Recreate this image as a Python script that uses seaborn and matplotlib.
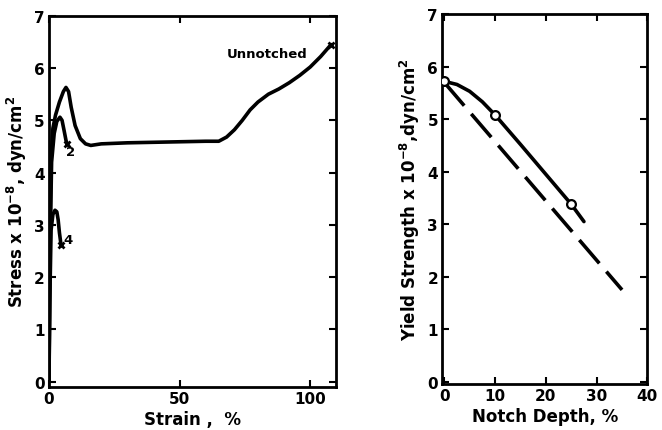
import numpy as np
import pandas as pd
import seaborn as sns
import matplotlib.pyplot as plt

# left panel: stress-strain curves
unnotched_strain = [0, 0.3, 0.8, 1.5, 2.5, 4, 5.5, 6.5, 7.5, 8.5, 10, 12, 14, 16, 20, 30, 40, 50, 60, 65,
                    68, 71, 74, 77, 80, 84, 88, 92, 96, 100, 104, 108]
unnotched_stress = [0, 2.5, 4.3, 4.85, 5.1, 5.35, 5.55, 5.63, 5.55, 5.25, 4.9, 4.65, 4.55, 4.52, 4.55, 4.57,
                    4.58, 4.59, 4.6, 4.6, 4.68, 4.82, 5.0, 5.2, 5.35, 5.5, 5.6, 5.72, 5.86, 6.02, 6.22, 6.45]
notch2_strain = [0, 0.4, 1, 2, 3, 4.2, 5, 5.8, 6.5, 6.9]
notch2_stress = [0, 2.5, 4.2, 4.75, 4.98, 5.06, 5.0, 4.8, 4.62, 4.55]
notch4_strain = [0, 0.3, 0.8, 1.5, 2.3, 3.0, 3.5, 4.0, 4.6]
notch4_stress = [0, 1.5, 2.9, 3.2, 3.28, 3.25, 3.1, 2.85, 2.62]

# right panel: yield strength vs notch depth
depth_meas = [0, 10, 25]
yield_meas = [5.72, 5.08, 3.38]
depth_curve = [0, 2.5, 5, 7.5, 10, 15, 20, 25, 27.5]
yield_curve = [5.72, 5.66, 5.53, 5.33, 5.08, 4.52, 3.95, 3.38, 3.05]
depth_dash = [0, 35]
yield_dash = [5.7, 1.75]

sns.set_style("ticks")
plt.rcParams["font.family"] = ["DejaVu Sans"]
plt.rcParams["font.weight"] = "bold"
plt.rcParams["mathtext.default"] = "regular"
plt.rcParams["text.color"] = "black"
plt.rcParams["axes.labelcolor"] = "black"
plt.rcParams["xtick.color"] = "black"
plt.rcParams["ytick.color"] = "black"
plt.rcParams["axes.edgecolor"] = "black"

fig = plt.figure(figsize=(6.62, 4.31), dpi=100)
ax1 = fig.add_axes([0.074, 0.100, 0.434, 0.861])
ax2 = fig.add_axes([0.668, 0.107, 0.310, 0.858])

lw = 2.6
for xs, ys in [(unnotched_strain, unnotched_stress), (notch2_strain, notch2_stress),
               (notch4_strain, notch4_stress)]:
    df = pd.DataFrame({"strain": xs, "stress": ys})
    sns.lineplot(data=df, x="strain", y="stress", sort=False, estimator=None,
                 color="black", lw=lw, ax=ax1)
    ax1.plot(xs[-1], ys[-1], marker="x", ms=5, mew=2, color="black")

ax1.text(99, 6.27, "Unnotched", ha="right", va="center", fontsize=9.5, fontweight="bold")
ax1.text(8.4, 4.4, "2", ha="center", va="center", fontsize=9.5, fontweight="bold")
ax1.text(7.2, 2.72, "4", ha="center", va="center", fontsize=9.5, fontweight="bold")

ax1.set_xlim(0, 110)
ax1.set_ylim(-0.1, 7)
ax1.set_xticks([0, 50, 100])
ax1.set_yticks(range(0, 8))
ax1.set_xlabel("Strain ,  %", fontsize=12, fontweight="bold", labelpad=3)
ax1.set_ylabel("Stress x 10$^{-8}$, dyn/cm$^2$", fontsize=12, fontweight="bold", labelpad=4)

df_c = pd.DataFrame({"depth": depth_curve, "ys": yield_curve})
sns.lineplot(data=df_c, x="depth", y="ys", sort=False, estimator=None, color="black", lw=lw, ax=ax2)
df_d = pd.DataFrame({"depth": depth_dash, "ys": yield_dash})
sns.lineplot(data=df_d, x="depth", y="ys", sort=False, estimator=None, color="black", lw=lw,
             ax=ax2)
ax2.lines[-1].set_dashes((8.5, 3))
df_m = pd.DataFrame({"depth": depth_meas, "ys": yield_meas})
sns.scatterplot(data=df_m, x="depth", y="ys", marker="o", s=40, facecolor="white",
                edgecolor="black", linewidth=1.6, zorder=5, ax=ax2)

ax2.set_xlim(-0.4, 40)
ax2.set_ylim(-0.04, 7)
ax2.set_xticks(range(0, 41, 10))
ax2.set_yticks(range(0, 8))
ax2.set_xlabel("Notch Depth, %", fontsize=12, fontweight="bold", labelpad=3)
ax2.set_ylabel("Yield Strength x 10$^{-8}$,dyn/cm$^2$", fontsize=12, fontweight="bold", labelpad=4)

for ax in (ax1, ax2):
    for sp in ax.spines.values():
        sp.set_visible(True)
        sp.set_linewidth(2)
        sp.set_color("black")
    ax.tick_params(direction="in", length=5, width=1.5, top=True, right=True,
                   labelsize=11, pad=3, colors="black")
    for lab in ax.get_xticklabels() + ax.get_yticklabels():
        lab.set_fontweight("bold")

fig.savefig("out.png", dpi=100)
